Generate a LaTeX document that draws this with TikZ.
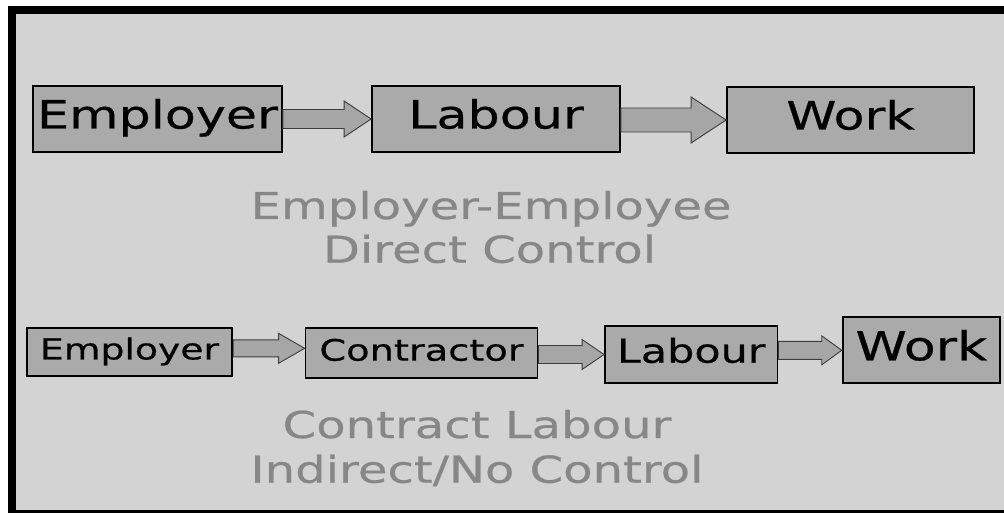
\documentclass[tikz,border=0pt]{standalone}
\usepackage{fontspec}
\newfontfamily\vfont[FakeStretch=1.3,FakeBold=0.6]{DejaVu Sans}
\usetikzlibrary{calc}
\definecolor{bggray}{RGB}{211,211,211}
\definecolor{boxgray}{RGB}{170,170,170}
\definecolor{arrowgray}{RGB}{166,166,166}
\definecolor{arrowline}{RGB}{60,60,60}
\definecolor{capgray}{RGB}{135,135,135}
\newcommand\sizedfont[1]{\vfont\fontsize{#1}{#1}\selectfont}
% #1 from, #2 to, #3 y-offset, #4 shaft half height, #5 head half height, #6 head length
\newcommand\blockarrow[6]{%
  \draw[arrowshape] ($(#1.east |- #2.west)+(0,#3-#4)$) -- ($(#2.west)+(-#6,#3-#4)$)
    -- ($(#2.west)+(-#6,#3-#5)$) -- ($(#2.west)+(0,#3)$) -- ($(#2.west)+(-#6,#3+#5)$)
    -- ($(#2.west)+(-#6,#3+#4)$) -- ($(#1.east |- #2.west)+(0,#3+#4)$) -- cycle;}
\begin{document}
\begin{tikzpicture}[x=1pt,y=-1pt,
  box/.style={draw=black, line width=1.8pt, fill=boxgray, inner sep=0pt, text=black},
  arrowshape/.style={draw=arrowline, line width=0.9pt, fill=arrowgray, line join=miter},
  captext/.style={text=capgray, inner sep=0pt, font=\sizedfont{37}}]
\useasboundingbox (0,0) rectangle (1004,513);
\fill[white] (0,0) rectangle (1004,513);
\fill[black] (8,6) rectangle (1004,513);
\fill[bggray] (16,14) rectangle (1004,510);
% row 1
\node[box, font=\sizedfont{39}, text height=29pt, text depth=10pt, minimum width=249pt, minimum height=66pt] (e1) at (157.5,119) {Employer};
\node[box, font=\sizedfont{39}, text height=29pt, text depth=10pt, minimum width=248pt, minimum height=66pt] (l1) at (496,119) {Labour};
\node[box, font=\sizedfont{39}, text height=29pt, text depth=10pt, minimum width=247pt, minimum height=66.6pt] (w1) at (850.5,120) {Work};
\blockarrow{e1}{l1}{0}{9.5}{18}{27}
\blockarrow{l1}{w1}{0}{12}{23}{35}
% row 2
\node[box, font=\sizedfont{29}, text height=21.75pt, text depth=7.25pt, minimum width=205.6pt, minimum height=47.7pt] (e2) at (129.5,352.2) {Employer};
\node[box, font=\sizedfont{29.5}, text height=22.1pt, text depth=7.4pt, minimum width=232pt, minimum height=50pt] (c2) at (421.5,353.3) {Contractor};
\node[box, font=\sizedfont{33}, text height=23pt, text depth=6.6pt, minimum width=172.5pt, minimum height=57.6pt] (l2) at (691.2,354.5) {Labour};
\node[box, font=\sizedfont{40}, text height=28pt, text depth=8pt, minimum width=157.3pt, minimum height=66pt] (w2) at (921.3,350.3) {Work};
\blockarrow{e2}{c2}{-5}{8.5}{15}{26}
\blockarrow{c2}{l2}{0}{9}{15}{22}
\blockarrow{l2}{w2}{0}{9}{14.5}{20}
% captions
\node[captext, anchor=base] (t1) at (491,219) {Employer-Employee};
\node[captext, anchor=base] (t2) at (489.5,262.7) {Direct Control};
\node[captext, anchor=base] (t3) at (477,438) {Contract Labour};
\node[captext, anchor=base] (t4) at (477,482.7) {Indirect/No Control};
\end{tikzpicture}
\end{document}
